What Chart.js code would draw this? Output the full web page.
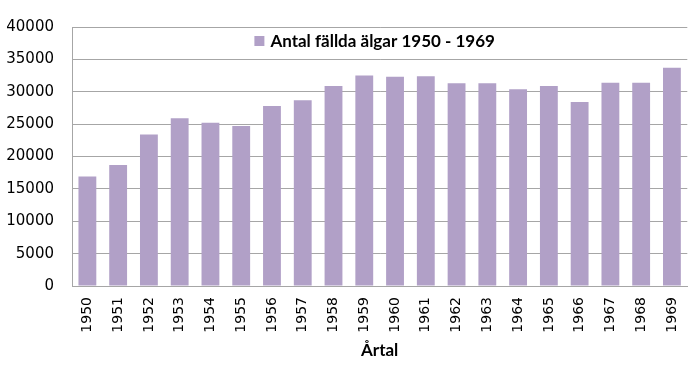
<!DOCTYPE html>
<html>
<head>
<meta charset="utf-8">
<script src="https://cdn.jsdelivr.net/npm/chart.js@4"></script>
<style>
  html, body { margin: 0; padding: 0; background: #fff; }
  #wrap { width: 700px; height: 371px; }
</style>
</head>
<body>
<div id="wrap"><canvas id="myChart" width="700" height="371"></canvas></div>
<script>
'use strict';

// data
let years = ['1950','1951','1952','1953','1954','1955','1956','1957','1958','1959',
             '1960','1961','1962','1963','1964','1965','1966','1967','1968','1969'];
let felled = [16900, 18700, 23400, 25900, 25200, 24700, 27800, 28700, 30900, 32500,
              32300, 32400, 31300, 31300, 30400, 30900, 28400, 31400, 31400, 33700];
let seriesName = 'Antal fällda älgar 1950 - 1969';
let axisTitle = 'Årtal';
let yTicks = [0, 5000, 10000, 15000, 20000, 25000, 30000, 35000, 40000];

let barColor = '#b1a0c7';
let gridColor = '#a6a6a6';
let tickFont = "'DejaVu Sans', Verdana, sans-serif";

// legend sits inside the plot, so draw it by hand
let insideLegend = {
  id: 'insideLegend',
  afterDraw(chart) {
    let ctx = chart.ctx;
    let area = chart.chartArea;
    ctx.save();
    ctx.font = 'bold 17px Lato';
    let w = ctx.measureText(seriesName).width;
    let total = 10 + 6 + w;
    let x = (area.left + area.right) / 2 - total / 2 - 5;
    let y = 41;
    ctx.fillStyle = barColor;
    ctx.fillRect(x, y - 5, 10, 10);
    ctx.fillStyle = '#000';
    ctx.textBaseline = 'middle';
    ctx.fillText(seriesName, x + 16, y + 1);
    ctx.restore();
  }
};

let ctx = document.getElementById('myChart').getContext('2d');
let myChart = new Chart(ctx, {
  type: 'bar',
  data: {
    labels: years,
    datasets: [{
      label: seriesName,
      data: felled,
      backgroundColor: barColor,
      borderWidth: 0,
      barPercentage: 0.58,
      categoryPercentage: 1
    }]
  },
  options: {
    responsive: false,
    animation: false,
    layout: { padding: { top: 19, right: 11, left: 0, bottom: 0 } },
    plugins: {
      legend: { display: false },
      tooltip: { enabled: false }
    },
    scales: {
      x: {
        grid: { display: false, drawTicks: false },
        border: { display: true, color: gridColor, width: 1 },
        ticks: {
          color: '#000',
          font: { family: tickFont, size: 14 },
          minRotation: 90,
          maxRotation: 90,
          padding: 11
        },
        title: {
          display: true,
          text: axisTitle,
          color: '#000',
          font: { family: 'Lato', size: 17, weight: 'bold' },
          padding: { top: 0, bottom: 10 }
        },
        afterFit(scale) { scale.height = 85; }
      },
      y: {
        min: 0,
        max: 40000,
        afterBuildTicks(scale) {
          scale.ticks = yTicks.map(v => ({ value: v }));
        },
        grid: { color: gridColor, drawTicks: false },
        border: { display: true, color: gridColor, width: 1 },
        ticks: {
          color: '#000',
          font: { family: tickFont, size: 15 },
          padding: 18,
          callback: v => String(v)
        },
        afterFit(scale) { scale.width = 72; }
      }
    }
  },
  plugins: [insideLegend]
});
</script>
</body>
</html>
